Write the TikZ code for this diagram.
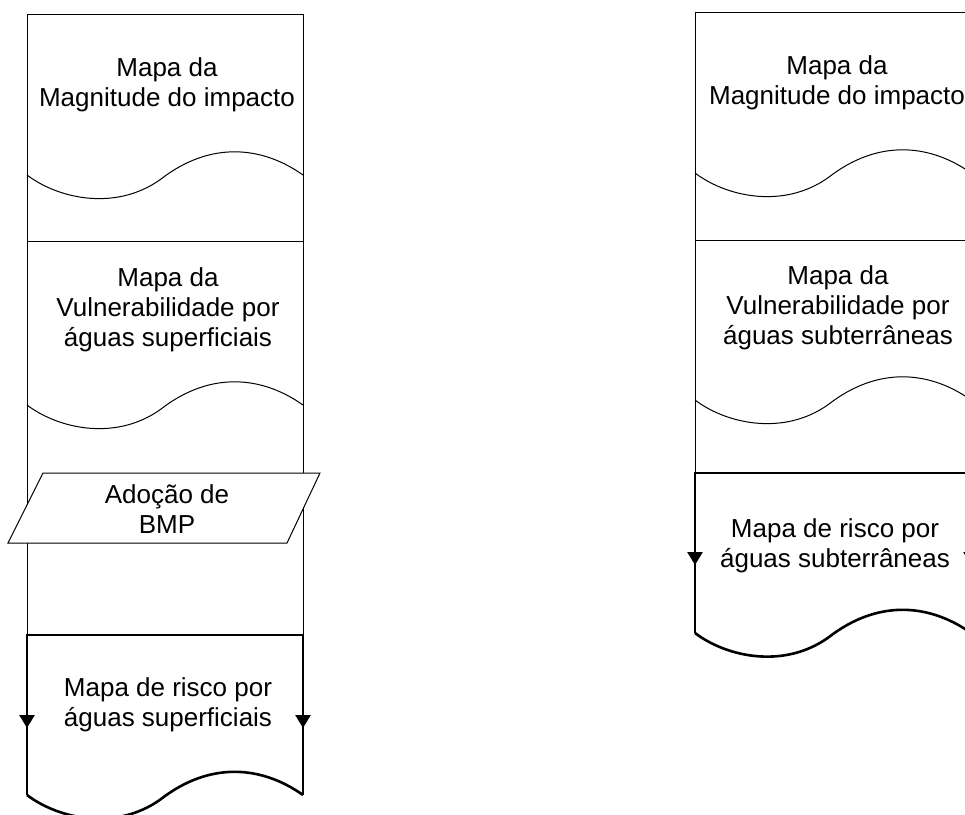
\documentclass[tikz,border=0pt]{standalone}
\usepackage{fontspec}
\setmainfont{Liberation Sans}
\usetikzlibrary{arrows.meta}
\begin{document}
\begin{tikzpicture}[x=1pt,y=-1pt,
  thinline/.style={line width=1pt, line join=miter},
  thickline/.style={line width=2.6pt, line join=miter},
  lbl/.style={align=center, font=\fontsize{26}{30}\selectfont, inner sep=0pt},
  downtip/.style={line width=2.6pt, -{Triangle[length=13pt,width=15pt]}}]
\useasboundingbox (0,0) rectangle (965,814);
\clip (0,0) rectangle (965,814);
% ---------------- left column ----------------
\draw[thinline] (27,635) -- (27,14) -- (303,14) -- (303,635);
\draw[thinline] (27,241) -- (303,241);
\draw[thinline, shift={(27,175)}] (0,0) .. controls (33,25) and (93,37) .. (138,1) .. controls (188,-35) and (238,-27) .. (276,0);
\draw[thinline, shift={(27,405)}] (0,0) .. controls (33,25) and (93,37) .. (138,1) .. controls (188,-35) and (238,-27) .. (276,0);
\node[lbl] (magL) at (167,85) {Mapa da\\Magnitude do impacto};
\node[lbl] (vulL) at (168,310) {Mapa da\\Vulnerabilidade por\\águas superficiais};
% parallelogram
\filldraw[thinline, fill=white] (43,473) -- (320,473) -- (287,543) -- (8,543) -- cycle;
\node[lbl] (bmp) at (167,509) {Adoção de\\BMP};
% risk document
\draw[thickline] (27,795) -- (27,635) -- (303,635) -- (303,795);
\draw[thickline, shift={(27,795)}] (0,0) .. controls (33,25) and (93,37) .. (138,1) .. controls (188,-35) and (238,-27) .. (276,0);
\coordinate (la1) at (27,700); \coordinate (la2) at (27,728);
\coordinate (ra1) at (303,700); \coordinate (ra2) at (303,728);
\draw[downtip] (la1) -- (la2);
\draw[downtip] (ra1) -- (ra2);
\node[lbl] (riskL) at (168,705) {Mapa de risco por\\águas superficiais};
% ---------------- right column ----------------
\draw[thinline] (695,473) -- (695,12) -- (971,12) -- (971,473);
\draw[thinline] (695,240) -- (971,240);
\draw[thinline, shift={(695,173)}] (0,0) .. controls (33,25) and (93,37) .. (138,1) .. controls (188,-35) and (238,-27) .. (276,0);
\draw[thinline, shift={(695,400)}] (0,0) .. controls (33,25) and (93,37) .. (138,1) .. controls (188,-35) and (238,-27) .. (276,0);
\node[lbl] (magR) at (837,83) {Mapa da\\Magnitude do impacto};
\node[lbl] (vulR) at (838,308) {Mapa da\\Vulnerabilidade por\\águas subterrâneas};
\draw[thickline] (695,633) -- (695,473) -- (971,473) -- (971,633);
\draw[thickline, shift={(695,633)}] (0,0) .. controls (33,25) and (93,37) .. (138,1) .. controls (188,-35) and (238,-27) .. (276,0);
\coordinate (lb1) at (695,540); \coordinate (lb2) at (695,565);
\coordinate (rb1) at (971,540); \coordinate (rb2) at (971,565);
\draw[downtip] (lb1) -- (lb2);
\draw[downtip] (rb1) -- (rb2);
\node[lbl] (riskR) at (835,546) {Mapa de risco por\\águas subterrâneas};
\end{tikzpicture}
\end{document}
